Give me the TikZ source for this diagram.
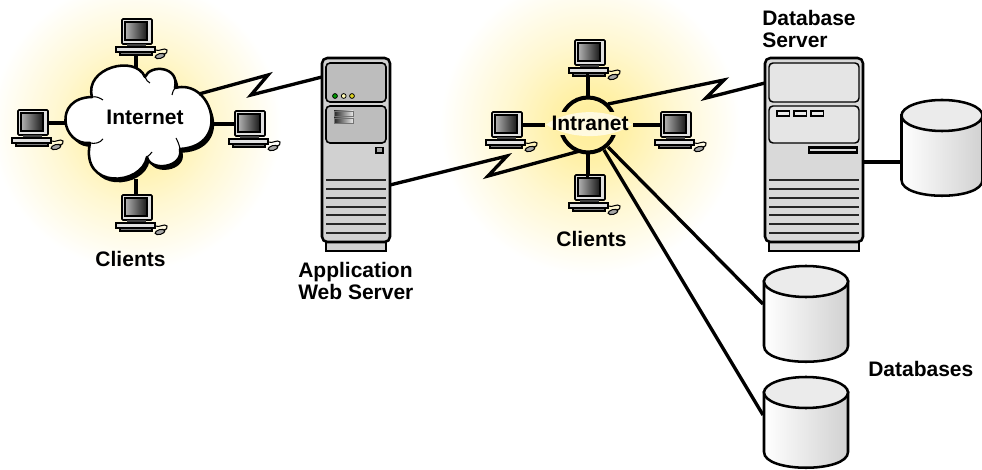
\documentclass[tikz,border=0pt]{standalone}
\usepackage{fontspec}
\setmainfont{Liberation Sans}
\usetikzlibrary{calc}
\definecolor{glowc}{HTML}{FFEE99}
\pgfdeclareradialshading{glow}{\pgfpoint{0bp}{0bp}}{color(0bp)=(glowc); color(6bp)=(glowc!85!white); color(14bp)=(glowc!45!white); color(25bp)=(white); color(50bp)=(white)}
\tikzset{
  lbl/.style={font=\fontsize{15.75}{16.5}\selectfont\bfseries, align=left, inner sep=0pt},
  wire/.style={draw=black, line width=2.5pt},
  vent/.style={draw=black!85, line width=.8pt},
  pc/.pic={
    \draw[fill=black!12, line width=1.2pt, rounded corners=.8pt] (-14,0) rectangle (16,25);
    \shade[left color=black!30, right color=black!90, draw=black, line width=.9pt] (-11,3) rectangle (11,21);
    \fill[black!75] (-9,25) rectangle (10,28);
    \draw[fill=black!12, line width=.9pt] (-20,28) rectangle (19,33);
    \draw[fill=black!50, line width=.9pt] (-16,33) rectangle (16,36);
    \draw[fill=black!35, line width=.8pt, rotate around={15:(24,37)}] (24,37) ellipse (5 and 2.4);
    \draw[line width=.8pt] (19,31) .. controls (24,33) and (28,28) .. (31,31) .. controls (32,33) and (30,35) .. (28,35);
    \coordinate (-t) at (0,0);
    \coordinate (-b) at (0,36);
    \coordinate (-l) at (-14,13);
    \coordinate (-r) at (16,13);
  }
}
\newcommand{\towerVents}[2]{%
  \foreach \vy in {180,189,198,207,215,224,233} \draw[vent] (#1,\vy) -- (#2,\vy);
}
\newcommand{\dbcyl}[5]{% name, cx, ytop, rx, height
  \path[left color=white, right color=black!18, draw=black, line width=1.9pt]
    (#2-#4,#3+15.5) -- (#2-#4,#3+#5-16) .. controls (#2-#4,#3+#5+5) and (#2+#4,#3+#5+5) .. (#2+#4,#3+#5-16) -- (#2+#4,#3+15.5) -- cycle;
  \draw[fill=black!8, line width=1.9pt] (#2,#3+15.5) ellipse (#4 and 15.5);
}
\begin{document}
\begin{tikzpicture}[x=.75pt,y=-.75pt]
\useasboundingbox (0,0) rectangle (982,470);
\begin{scope}
\clip (0,0) rectangle (982,470);
\fill[white] (0,0) rectangle (982,470);
\shade[shading=glow] (136,125) circle (145);
\shade[shading=glow] (590,125) circle (150);

% computers
\pic (pa) at (136,19) {pc};
\pic (pb) at (32,110) {pc};
\pic (pc) at (249,111) {pc};
\pic (pd) at (136,195) {pc};
\pic (pe) at (589,40) {pc};
\pic (pf) at (506,112) {pc};
\pic (pg) at (675,112) {pc};
\pic (ph) at (589,175) {pc};

% cloud anchors
\coordinate (ct) at (136,68);
\coordinate (cl) at (68,123);
\coordinate (cr) at (212,124);
\coordinate (cb) at (136,179);
\coordinate (cz) at (199,94);
\draw[wire] (pa-b) -- (pa-b -| ct) -- (ct);
\draw[wire] (pb-r) -- (cl);
\draw[wire] (pc-l) -- (cr);
\draw[wire] (pd-t) -- (cb);

% cloud
\def\cloudpath{(92,97) .. controls (84,68) and (135,54) .. (145,77)
  .. controls (150,64) and (180,66) .. (175,88)
  .. controls (212,78) and (232,146) .. (180,149)
  .. controls (184,168) and (150,172) .. (147,157)
  .. controls (142,186) and (80,190) .. (90,143)
  .. controls (62,146) and (52,98) .. (92,97)}
\fill[black,xshift=2pt,yshift=-2.8pt] \cloudpath -- cycle;
\path[fill=white,draw=black,line width=1.9pt,line join=round] \cloudpath -- cycle;
\draw[line width=.8pt] (92,97) .. controls (96,96) and (100,98) .. (103,100);
\draw[line width=.8pt] (90,143) .. controls (95,144) and (100,143) .. (103,139);
\draw[line width=.8pt] (145,77) .. controls (146,80) and (148,82) .. (150,83);
\draw[line width=.8pt] (175,88) .. controls (174,90) and (172,92) .. (172,95);
\draw[line width=.8pt] (180,149) .. controls (179,144) and (178,142) .. (176,138);
\draw[line width=.8pt] (147,157) .. controls (149,155) and (151,154) .. (152,152);

% app server
\coordinate (sa-l) at (322,77);
\coordinate (sa-r) at (390,185);
\draw[line width=1.5pt,fill=black!18] (326,240) rectangle (386,251);
\draw[line width=1.9pt,fill=black!18,rounded corners=4pt] (322,58) rectangle (390,242);
\draw[line width=1.2pt,fill=black!26,rounded corners=3pt] (326,63) rectangle (386,102);
\draw[line width=1.2pt,fill=black!26,rounded corners=3pt] (326,106) rectangle (386,143);
\draw[line width=.6pt,fill=green!60!black] (335,96) circle (2.4);
\draw[line width=.6pt,fill=yellow!30] (343.7,96) circle (2.4);
\draw[line width=.6pt,fill=yellow!85!black] (352,96) circle (2.4);
\shade[left color=black!85,right color=black!8,draw=black!55,line width=.4pt] (334,111) rectangle (353,116);
\shade[left color=black!85,right color=black!8,draw=black!55,line width=.4pt] (334,118) rectangle (353,123);
\draw[line width=1.4pt,fill=black!35] (376,147.5) rectangle (383,153);
\towerVents{326}{386}

% db server
\coordinate (sb-l) at (765,83);
\coordinate (sb-r) at (863,162);
\draw[line width=1.5pt,fill=black!15] (769,240) rectangle (859,251);
\draw[line width=1.9pt,fill=black!15,rounded corners=4pt] (765,58) rectangle (863,242);
\draw[line width=1.1pt,fill=black!10,rounded corners=3pt] (769,63) rectangle (859,102);
\draw[line width=1.1pt,fill=black!10,rounded corners=3pt] (769,106) rectangle (859,143);
\foreach \sx in {777,794,811} \draw[line width=.9pt,fill=black!8] (\sx,111) rectangle (\sx+12.5,116);
\draw[line width=1.9pt,fill=black!15] (809,147.5) rectangle (857,152.5);
\towerVents{769}{859}

% databases
\dbcyl{da}{942}{100}{40.5}{96}
\dbcyl{db}{806}{266}{42}{96}
\dbcyl{dc}{806}{377}{42}{91}
\coordinate (da-w) at (902,162);
\coordinate (db-w) at (763,304);
\coordinate (dc-w) at (763,415);
\draw[wire] (sb-r) -- (da-w);

% hub
\coordinate (hc) at (588,125);
\coordinate (h1) at (608,104);
\coordinate (h2) at (580,151);
\coordinate (h3) at (608,147);
\coordinate (h4) at (604,150);
\coordinate (hN) at (588,98);
\coordinate (hS) at (588,153);
\coordinate (hW) at (545,125);
\coordinate (hE) at (633,125);
\draw[wire] (pe-b) -- (pe-b -| hN) -- (hN);
\draw[wire] (ph-t) -- (ph-t -| hS) -- (hS);
\draw[wire] (pf-r) -- (hW);
\draw[wire] (pg-l) -- (hE);
\begin{scope}
\clip (540,90) rectangle (640,112);
\draw[wire,line width=3pt] (hc) circle (27.5);
\end{scope}
\begin{scope}
\clip (540,136) rectangle (640,160);
\draw[wire,line width=3pt] (hc) circle (27.5);
\end{scope}
\fill[glowc!30!white] (546,124.5) .. controls (570,108) and (610,108) .. (632,124.5) .. controls (610,140) and (570,140) .. (546,124.5) -- cycle;

% connectors
\coordinate (z1) at (268,75);
\coordinate (z2) at (251,95);
\coordinate (z3) at (507,156);
\coordinate (z4) at (488,176);
\coordinate (z5) at (724,80);
\coordinate (z6) at (706,98);
\draw[wire,line join=miter] (cz) -- (z1) -- (z2) -- (sa-l);
\draw[wire,line join=miter] (sa-r) -- (z3) -- (z4) -- (h2);
\draw[wire,line join=miter] (h1) -- (z5) -- (z6) -- (sb-l);
\draw[wire] (h3) -- (db-w);
\draw[wire] (h4) -- (dc-w);

% labels
\node[lbl] (tint) at (145,117) {Internet};
\node[lbl] (tintra) at (590,123) {Intranet};
\node[lbl] (tc1) at (130.5,259) {Clients};
\node[lbl] (tc2) at (591.5,239) {Clients};
\node[lbl,anchor=north west] (tapp) at (298,262) {Application\\Web Server};
\node[lbl,anchor=north west] (tdbs) at (762,10.5) {Database\\Server};
\node[lbl,anchor=west] (tdb) at (868,369) {Databases};
\end{scope}
\end{tikzpicture}
\end{document}
